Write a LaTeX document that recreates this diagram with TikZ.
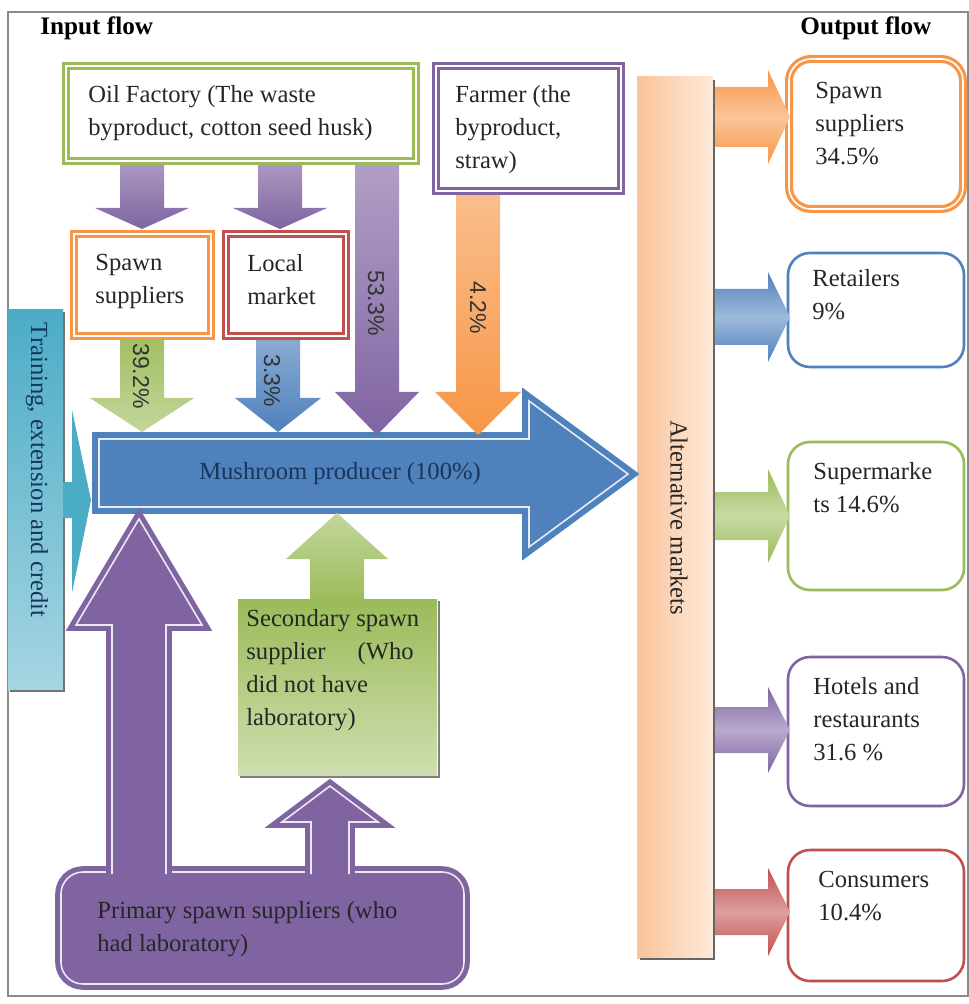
\documentclass[tikz,border=0pt]{standalone}
\usepackage{fontspec}
\setmainfont{Liberation Serif}
\setsansfont{Liberation Sans}
\usetikzlibrary{fit}
\definecolor{ogreen}{HTML}{9BBB59}
\definecolor{lgreen}{HTML}{C3D69B}
\definecolor{opurple}{HTML}{8064A2}
\definecolor{lpurple}{HTML}{B3A2C7}
\definecolor{oorange}{HTML}{F79646}
\definecolor{lorange}{HTML}{FAC090}
\definecolor{ored}{HTML}{C0504D}
\definecolor{lred}{HTML}{D99694}
\definecolor{oblue}{HTML}{4F81BD}
\definecolor{lblue}{HTML}{95B3D7}
\definecolor{ocyan}{HTML}{4BACC6}
\definecolor{lcyan}{HTML}{A5D5E2}
\definecolor{peach}{HTML}{F9C49A}
\definecolor{lpeach}{HTML}{FDEADA}
\definecolor{navy}{HTML}{17365D}
\newcommand{\vblock}[7]{%
	\path[#7] (#1-#5,#2) -- (#1-#5,#3) -- (#1-#6,#3) -- (#1,#4)
		-- (#1+#6,#3) -- (#1+#5,#3) -- (#1+#5,#2);}
\newcommand{\hblock}[7]{%
	\path[#7] (#2,#1-#5) -- (#3,#1-#5) -- (#3,#1-#6) -- (#4,#1)
		-- (#3,#1+#6) -- (#3,#1+#5) -- (#2,#1+#5);}
\begin{document}
\begin{tikzpicture}[x=0.5pt,y=-0.5pt,line join=miter,
	txt/.style={font=\fontsize{12.3}{16.5}\selectfont,align=left,inner sep=0pt,anchor=north west,text=black!85},
	head/.style={font=\bfseries\fontsize{12.6}{15}\selectfont,inner sep=0pt,anchor=north west},
	pct/.style={font=\sffamily\fontsize{11.5}{13}\selectfont,rotate=-90,inner sep=0pt,text=black!80},
	side/.style={font=\fontsize{12.3}{15}\selectfont,rotate=-90,inner sep=0pt},
	inbox/.style={draw=#1,double=white,double distance=0.9pt,line width=1.4pt,fill=white,inner sep=0pt},
	outbox/.style={draw=#1,line width=1.3pt,fill=white,rounded corners=11pt,inner sep=0pt},
	rim/.style={fill=#1,draw=#1,double=white!85!#1,double distance=0.8pt,line width=2.5pt},
	band/.style={top color=#1,bottom color=#1,middle color=#1!55}]
	\useasboundingbox (0,0) rectangle (968,1004);
	\fill[white] (0,0) rectangle (968,1004);
	\draw[black!45,line width=0.8pt] (8,12) rectangle (968,996);
	\node[head] (inhead) at (40,16) {Input flow};
	\node[head] (outhead) at (800,16) {Output flow};
	\node[fit={(637,77) (713,958)},inner sep=0pt,left color=peach,right color=lpeach] (market) {};
	\draw[black!60,line width=1pt] (714,80) -- (714,959) -- (640,959);
	\node[side,text=black!85] (markettxt) at ([xshift=2pt]market.center) {Alternative markets};
	\path[rim=oblue,line width=3pt] (99,439) -- (529,439) -- (529,401) -- (628,474) -- (529,547) -- (529,507) -- (99,507) -- cycle;
	\node[font=\fontsize{12.3}{15}\selectfont,text=navy] (producer) at (340,474) {Mushroom producer (100\%)};
	\vblock{142}{150}{208}{229}{22}{47}{top color=lpurple,bottom color=opurple}
	\vblock{280}{150}{208}{229}{22}{47}{top color=lpurple,bottom color=opurple}
	\vblock{377}{150}{392}{435}{22}{42}{top color=lpurple,bottom color=opurple}
	\vblock{478}{180}{392}{435}{22}{43}{top color=lorange,bottom color=oorange}
	\vblock{142}{320}{398}{432}{22}{52}{top color=ogreen,bottom color=lgreen}
	\vblock{278}{320}{398}{432}{22}{43}{top color=lblue,bottom color=oblue}
	\node[inbox=ogreen,fit={(66,66) (416,161)}] (oil) {};
	\node[inbox=opurple,fit={(436,66) (621,191)}] (farmer) {};
	\node[inbox=oorange,fit={(74,234) (211,336)}] (spawnin) {};
	\node[inbox=ored,fit={(226,234) (346,336)}] (local) {};
	\node[txt] (oiltxt) at (88,85) {Oil Factory (The waste\\byproduct, cotton seed husk)};
	\node[txt] (farmertxt) at (455,85) {Farmer (the\\byproduct,\\straw)};
	\node[txt] (spawnintxt) at (95,254) {Spawn\\suppliers};
	\node[txt] (localtxt) at (247,254) {Local\\market};
	\node[pct] (p533) at (376,303) {53.3\%};
	\node[pct] (p42) at (478,308) {4.2\%};
	\node[pct] (p392) at (141,376) {39.2\%};
	\node[pct] (p33) at (272,381) {3.3\%};
	\node[fit={(8,310) (63,690)},inner sep=0pt,top color=ocyan,bottom color=lcyan] (training) {};
	\draw[black!55,line width=1pt] (64,312) -- (64,691) -- (10,691);
	\fill[ocyan] (63,482) -- (72,482) -- (72,410) -- (91,500) -- (72,593) -- (72,518) -- (63,518) -- cycle;
	\node[side,text=navy] (trainingtxt) at (37,470) {Training, extension and credit};
	\vblock{337}{605}{559}{513}{27}{51}{top color=lgreen,bottom color=ogreen}
	\node[fit={(238,599) (437,775)},inner sep=0pt,top color=ogreen,bottom color=lgreen!80] (secondary) {};
	\draw[black!50,line width=1pt] (439,601) -- (439,777) -- (240,777);
	\node[txt] (secondarytxt) at (246,609) {Secondary spawn\\supplier\hspace{1.3em}(Who\\did not have\\laboratory)};
	\node[rim=opurple,rounded corners=11pt,fit={(61,872) (464,984)},inner sep=0pt] (primary) {};
	\vblock{139}{874}{625}{519}{27}{63}{rim=opurple}
	\vblock{330}{874}{822}{786}{19}{48}{rim=opurple}
	\node[txt] (primarytxt) at (97,901) {Primary spawn suppliers (who\\had laboratory)};
	\node[outbox=oorange,double=white,double distance=0.8pt,line width=1.6pt,fit={(789,59) (963,209)}] (spawnout) {};
	\node[outbox=oblue,fit={(788,253) (964,367)}] (retail) {};
	\node[outbox=ogreen,fit={(788,442) (964,590)}] (super) {};
	\node[outbox=opurple,fit={(788,657) (964,806)}] (hotel) {};
	\node[outbox=ored,fit={(788,850) (964,981)}] (consumer) {};
	\hblock{117}{715}{768}{790}{30}{47}{band=oorange}
	\hblock{317}{715}{768}{790}{28}{45}{band=oblue}
	\hblock{516}{715}{768}{790}{24}{47}{band=ogreen}
	\hblock{730}{715}{768}{790}{23}{43}{band=opurple}
	\hblock{912}{715}{768}{790}{23}{44}{band=ored}
	\node[txt] (spawnouttxt) at (815,82) {Spawn\\suppliers\\34.5\%};
	\node[txt] (retailtxt) at (812,269) {Retailers\\9\%};
	\node[txt] (supertxt) at (813,462) {Supermarke\\ts 14.6\%};
	\node[txt] (hoteltxt) at (813,677) {Hotels and\\restaurants\\31.6 \%};
	\node[txt] (consumertxt) at (818,871) {Consumers\\10.4\%};
\end{tikzpicture}
\end{document}
